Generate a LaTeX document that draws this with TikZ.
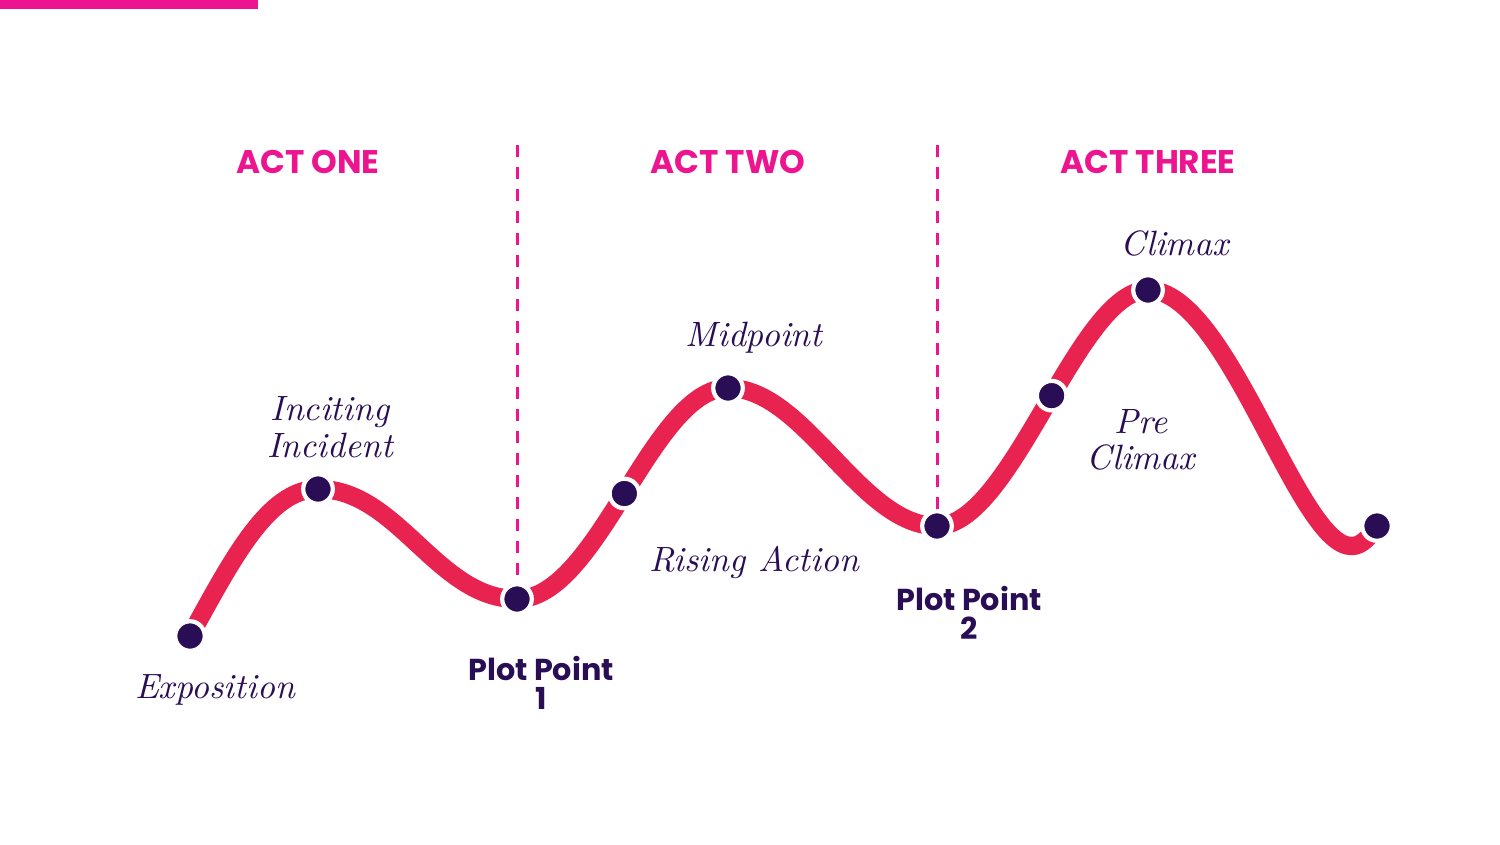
\documentclass[tikz,border=0pt]{standalone}
\usepackage{fontspec}
\usetikzlibrary{positioning}
\newfontfamily\actfont{Poppins}
\definecolor{arcred}{HTML}{E9234F}
\definecolor{actpink}{HTML}{EC148F}
\definecolor{plumdark}{HTML}{2A0E55}

\tikzset{
    plotline/.style={line width=5.2pt, arcred, line cap=round},
    actline/.style={line width=0.85pt, actpink, dash pattern=on 3.4pt off 2.85pt},
    beat/.style={circle, fill=plumdark, draw=white, line width=1.2pt, minimum size=8.4pt, inner sep=0pt},
    acttitle/.style={font=\actfont\bfseries\fontsize{9.3}{11}\selectfont, text=actpink},
    plotpoint/.style={font=\actfont\bfseries\fontsize{8.6}{8.2}\selectfont, text=plumdark, align=center},
    scribble/.style={font=\itshape\fontsize{10}{10.4}\selectfont, text=plumdark, align=center}
}

\begin{document}
\begin{tikzpicture}[x=0.01cm, y=-0.01cm]
        % background
        \useasboundingbox (0,0) rectangle (1500,844);
        \fill[actpink] (0,0) rectangle (258,9);
        
        % story arc
        \draw[plotline] (190,636) coordinate (expo)
            .. controls (232,560) and (268,489) .. (318,489) coordinate (inciting)
            .. controls (398,489) and (437,599) .. (517,599) coordinate (pp1)
            .. controls (598,599) and (652,388) .. coordinate[pos=0.5] (rising) (728,388) coordinate (midpoint)
            .. controls (805,388) and (860,526) .. (937,526) coordinate (pp2)
            .. controls (1012,526) and (1078,290) .. coordinate[pos=0.535] (preclimax) (1148,290) coordinate (climax)
            .. controls (1228,290) and (1298,548) .. (1352,546)
            .. controls (1362,546) and (1370,536) .. (1377,526) coordinate (finale);
        
        % act dividers
        \coordinate (cut1) at (517,145);
        \coordinate (cut2) at (937,145);
        \draw[actline] (cut1) -- (pp1);
        \draw[actline] (cut2) -- (pp2);
        
        % beats
        \foreach \b in {expo, inciting, pp1, rising, midpoint, pp2, preclimax, climax, finale}
        {
            \node[beat] (\b-dot) at (\b) {};
        }
        
        % act titles
        \node[acttitle] (actone) at (308,162) {ACT ONE};
        \node[acttitle] (acttwo) at (728,162) {ACT TWO};
        \node[acttitle] (actthree) at (1148,162) {ACT THREE};
        
        % labels
        \node[scribble] (expo-label) at (215,690) {Exposition};
        \node[scribble] (inciting-label) at (330,427) {Inciting\\Incident};
        \node[scribble] (midpoint-label) at (754,338) {Midpoint};
        \node[scribble] (rising-label) at (754,562) {Rising Action};
        \node[scribble] (climax-label) at (1175,243) {Climax};
        \node[scribble] (preclimax-label) at (1141,440) {Pre\\Climax};
        \node[plotpoint] (pp1-label) at (541,683) {Plot Point\\1};
        \node[plotpoint] (pp2-label) at (969,613) {Plot Point\\2};
        
%        \draw[help lines, step=50] (0,0) grid (1500,844);
    \end{tikzpicture}
\end{document}
